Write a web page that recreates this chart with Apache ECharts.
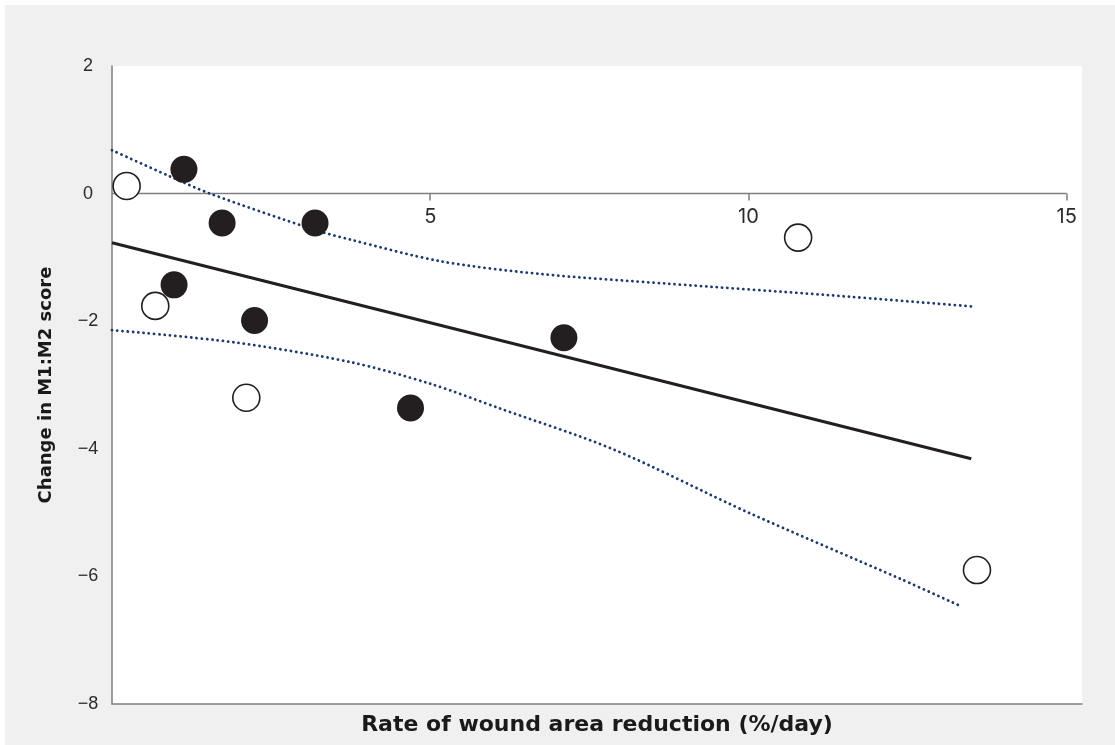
<!DOCTYPE html>
<html>
<head>
<meta charset="utf-8">
<script src="https://cdn.jsdelivr.net/npm/echarts@6/dist/echarts.min.js"></script>
<style>
  html, body { margin: 0; padding: 0; background: #ffffff; }
  #chart { position: absolute; left: 5px; top: 5px; width: 1110px; height: 740px; background: #eff0ef; }
</style>
</head>
<body>
<div id="chart"></div>
<script>
// Data
const filledPoints = [
  [1.13, 0.38], [1.73, -0.46], [3.19, -0.46], [0.975, -1.43],
  [2.24, -1.99], [7.10, -2.26], [4.69, -3.36]
];
const openPoints = [
  [0.23, 0.12], [0.68, -1.76], [2.11, -3.20], [10.78, -0.69], [13.59, -5.90]
];
const regressionLine = [[0, -0.77], [13.5, -4.155]];
const upperCI = [
  [0, 0.68], [0.91, 0.27], [1.54, 0.0], [3.19, -0.57], [3.74, -0.72],
  [5.16, -1.06], [6.73, -1.26], [8.7, -1.41], [11.24, -1.59], [13.53, -1.77]
];
const lowerCI = [
  [0, -2.14], [1.91, -2.33], [3.74, -2.64], [5.0, -2.98], [6.1, -3.37], [7.88, -4.01],
  [10, -5.0], [12.39, -6.04], [13.32, -6.46]
];
const zeroLine = [[0, 0], [15, 0]];
const xTickValues = [5, 10, 15];
const yMin = -8, yMax = 2, yStep = 2;
const xMax = 15.24;
const xTitle = 'Rate of wound area reduction (%/day)';
const yTitle = 'Change in M1:M2 score';

const gridHeight = 638;
// the value axis sits on y = 0: move the top axis down to that level
const zeroOffset = -gridHeight * (yMax - 0) / (yMax - yMin);

const chart = echarts.init(document.getElementById('chart'), null, { renderer: 'canvas' });
const axisGray = '#7f7f7f';
const dotColor = '#1d3a6b';
const ink = '#231f20';

chart.setOption({
  animation: false,
  grid: { left: 107, top: 61, width: 970, height: gridHeight, show: true, backgroundColor: '#ffffff', borderWidth: 0 },
  xAxis: [
    {
      type: 'value', min: 0, max: xMax, position: 'top', offset: zeroOffset,
      axisLine: { show: false, onZero: false },
      axisTick: { show: true, inside: true, length: 7, lineStyle: { color: axisGray, width: 1.5 }, customValues: xTickValues },
      axisLabel: { show: true, inside: true, customValues: xTickValues, margin: 13, fontSize: 20, color: '#2b2b2b', fontFamily: 'Inter' },
      splitLine: { show: false }
    },
    {
      type: 'value', min: 0, max: xMax, position: 'bottom',
      axisLine: { show: true, onZero: false, lineStyle: { color: axisGray, width: 1.5 } },
      axisTick: { show: false }, axisLabel: { show: false }, splitLine: { show: false },
      name: xTitle, nameLocation: 'middle', nameGap: 10,
      nameTextStyle: { fontSize: 22, fontWeight: 'bold', color: '#1a1a1a', fontFamily: 'DejaVu Sans', verticalAlign: 'top' }
    }
  ],
  yAxis: {
    type: 'value', min: yMin, max: yMax, interval: yStep,
    axisLine: { show: true, onZero: false, lineStyle: { color: axisGray, width: 1.5 } },
    axisTick: { show: false },
    axisLabel: { margin: 24, align: 'center', fontSize: 18, color: '#2b2b2b', fontFamily: 'Liberation Sans',
      formatter: v => String(v).replace('-', '\u2212') },
    splitLine: { show: false },
    name: yTitle, nameLocation: 'middle', nameGap: 57, nameRotate: 90,
    nameTextStyle: { fontSize: 18, fontWeight: 'bold', color: '#1a1a1a', fontFamily: 'DejaVu Sans' }
  },
  series: [
    { type: 'line', data: zeroLine, symbol: 'none', silent: true, z: 1,
      lineStyle: { color: axisGray, width: 1.5 } },
    { type: 'line', data: upperCI, smooth: 0.3, symbol: 'none', z: 2,
      lineStyle: { color: dotColor, width: 2.8, type: [0.1, 5.2], cap: 'round' } },
    { type: 'line', data: lowerCI, smooth: 0.3, symbol: 'none', z: 2,
      lineStyle: { color: dotColor, width: 2.8, type: [0.1, 5.2], cap: 'round' } },
    { type: 'line', data: regressionLine, symbol: 'none', z: 3,
      lineStyle: { color: ink, width: 3 } },
    { type: 'scatter', data: openPoints, symbol: 'circle', symbolSize: 27, z: 4,
      itemStyle: { color: '#ffffff', borderColor: ink, borderWidth: 1.6, opacity: 1 } },
    { type: 'scatter', data: filledPoints, symbol: 'circle', symbolSize: 27, z: 5,
      itemStyle: { color: ink, opacity: 1 } }
  ]
});
</script>
</body>
</html>
